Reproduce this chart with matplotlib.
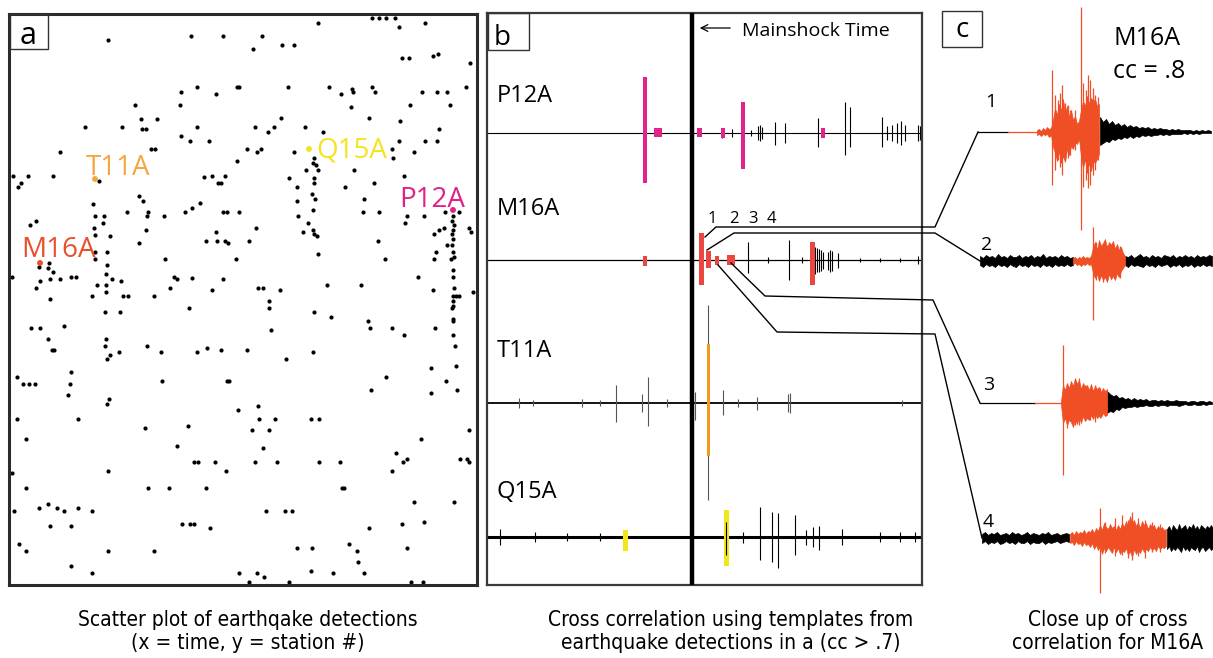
import numpy as np
import matplotlib
matplotlib.use('Agg')
from matplotlib import pyplot as plt
from matplotlib import font_manager
from matplotlib.font_manager import FontProperties
from matplotlib.patches import Rectangle

plt.rcParams['font.family'] = ['Open Sans', 'DejaVu Sans']

# condensed face for the captions, if one is around
cond = None
for f in font_manager.fontManager.ttflist:
    if f.style != 'normal' or f.weight not in (400, 'normal', 'regular', 'book'):
        continue
    if f.name in ('Roboto Condensed', 'Open Sans Condensed', 'DejaVu Sans Condensed', 'Liberation Sans Narrow') \
            or (f.name == 'DejaVu Sans' and f.stretch == 'condensed'):
        cond = f.fname
        break
if cond:
    cap_prop = FontProperties(fname=cond, size=15)
else:
    cap_prop = FontProperties(family='DejaVu Sans', size=13.5)

W, H = 1213, 658

# ---- panel a: detections, (time, station) in panel units
det_t = [108,191,223,237,239,197,181,216,180,135,141,157,85,122,142,146,197,181,190,209,60,151,155,237,13,28,53,21,18,99,
         204,212,225,218,221,139,143,93,200,192,185,127,148,147,164,223,227,239,36,30,95,104,103,94,95,110,146,216,206,217,
         225,228,139,95,107,95,165,236,49,39,48,53,12,50,40,60,71,76,107,106,112,121,174,177,192,223,36,97,106,106,
         170,212,50,92,123,128,154,
         318,372,379,386,395,399,425,262,253,282,294,402,409,433,438,470,288,329,341,352,353,372,375,422,437,447,466,410,450,351,
         281,369,400,255,274,268,305,323,439,247,257,261,294,314,313,316,318,306,354,392,393,399,414,425,437,289,314,314,297,345,
         374,404,312,315,297,364,313,363,379,445,459,407,405,424,298,308,256,303,313,314,317,434,439,444,
         453,452,454,453,452,453,452,453,454,453,453,454,453,
         469,471,249,378,447,318,385,436,434,451,418,258,263,280,327,361,433,456,459,473,269,
         105,120,189,31,40,64,48,52,54,106,105,107,110,119,147,161,197,207,221,17,23,29,35,71,70,68,162,227,229,109,
         107,17,78,238,145,188,26,177,12,108,194,198,215,226,26,148,169,206,14,39,48,57,64,78,92,50,71,182,190,194,
         210,19,26,108,154,71,92,239,
         269,314,331,271,368,370,392,404,435,453,453,452,453,453,453,455,456,247,313,286,431,386,446,371,431,457,258,259,275,311,
         319,252,269,469,263,421,396,255,277,319,340,403,407,392,460,467,469,342,344,414,454,266,285,292,369,402,424,297,312,349,
         357,358,407,257,249,264,289,311,333,364,411,423]
det_s = [40,36,36,87,87,87,92,94,105,105,119,119,127,127,129,129,127,136,141,141,152,149,149,161,176,176,176,183,187,181,
         177,176,176,183,183,196,201,204,203,208,212,212,212,216,216,212,212,212,221,225,216,216,223,228,235,236,230,232,241,241,
         241,243,243,252,252,259,259,259,263,267,268,272,277,279,281,279,277,277,265,274,279,281,277,279,278,279,288,285,285,292,
         288,290,299,296,296,296,296,
         23,18,18,18,18,27,23,36,49,45,45,58,58,56,54,63,87,87,94,89,92,87,92,92,92,92,87,105,105,107,
         118,118,121,127,127,132,127,132,129,149,152,149,152,158,163,165,170,170,170,149,158,141,152,141,141,178,178,183,187,187,
         183,176,194,199,201,199,210,212,212,212,212,216,223,216,216,223,228,232,230,234,236,234,230,228,
         216,221,225,230,234,239,245,252,257,270,277,288,296,
         228,232,241,241,245,254,259,252,259,259,277,288,288,290,285,285,290,296,296,292,301,
         312,312,308,328,328,326,339,350,350,339,346,359,355,352,346,352,352,348,350,377,384,384,384,372,384,395,381,381,381,399,
         404,419,419,410,428,426,439,446,473,471,462,462,462,471,488,488,488,488,511,508,504,508,511,508,511,526,526,524,524,524,
         528,544,551,551,551,566,573,573,
         308,312,317,330,321,328,328,335,328,301,306,308,319,321,335,346,366,350,352,359,368,377,381,390,393,390,406,419,419,419,
         419,430,430,430,448,439,453,462,462,462,462,462,459,471,459,459,462,488,488,502,502,511,511,511,528,524,522,548,548,544,
         551,562,548,573,582,577,582,571,573,573,582,582]

stations = ['T11A', 'M16A', 'Q15A', 'P12A']
sta_t = [95, 40, 309, 453]
sta_s = [179, 263, 149, 210]
sta_colors = ['#f4a640', '#e8502c', '#f2e41e', '#e0218a']

# ---- panel b: traces (baseline, trace width), spikes (t, top, bottom), detection bars (t, top, bottom, width)
trace_base = [133, 260, 403, 537]
trace_lw = [0.8, 0.9, 1.3, 2.2]
bar_colors = ['#e2238c', '#e9473f', '#f39a1e', '#f1e51c']
mainshock_t = 692

spikes_P12A = [(722,128,138),(732,129,137),(751,130,136),(758,126,140),(760,125,141),(762,127,139),(775,122,145),
               (785,123,143),(818,118,147),(845,102,155),(850,107,147),(882,117,147),(887,126,140),(892,125,141),
               (897,123,143),(901,121,145),(905,125,141),(918,125,141),(920,126,140)]
spikes_M16A = [(748,242,273),(768,257,263),(789,240,280),(802,257,263),(813,248,273),(815,247,274),(817,248,272),
               (819,249,272),(821,250,271),(823,252,269),(828,252,270),(830,250,272),(832,251,271),(838,253,268),
               (860,258,262),(880,258,262),(900,258,262),(918,256,264)]
spikes_T11A = [(519,398,408),(533,400,406),(582,399,407),(600,400,406),(616,385,422),(642,394,412),(648,377,426),
               (667,399,407),(695,392,420),(708,305,500),(723,390,415),(738,399,407),(757,397,410),(788,394,412),
               (790,393,413),(902,400,406)]
spikes_Q15A = [(500,529,545),(535,532,542),(567,533,541),(600,533,541),(743,532,543),(760,507,560),(772,512,562),
               (778,513,568),(795,515,555),(806,530,545),(813,527,547),(819,526,550),(842,529,545),(880,532,542),
               (900,532,542),(915,532,542)]
bars_P12A = [(645,77,183,4),(658,128,137,8),(699,128,137,5),(723,128,138,4),(743,102,169,4),(823,128,138,4)]
bars_M16A = [(645,256,266,4),(701,233,285,5),(708,251,268,5),(717,256,265,4),(731,255,265,8),(812,242,285,5)]
bars_T11A = [(708,344,456,3)]
bars_Q15A = [(625,530,551,5),(726,510,566,5)]
spikes_b = [spikes_P12A, spikes_M16A, spikes_T11A, spikes_Q15A]
bars_b = [bars_P12A, bars_M16A, bars_T11A, bars_Q15A]
event_num = ['1', '2', '3', '4']
event_num_t = [708, 729, 748, 767]

# ---- panel c: close-ups. segments = (start, step, upper env, lower env, colour key)
RED = '#f04e25'
c_base = [132, 261, 403, 538]
c_start = [978, 980, 980, 982]
c_quiet_red = [(1008, 1037), None, (1035, 1061), None]
c1_segs = [(1037, 2, [2,3,1,4,2,5,3,4, 12,24,17,28,21,33,19,26,15,22,12,16,8,11, 22,31,26,36,29,34,31,33,26,28],
                     [3,2,4,2,3,2,5,3, 15,21,29,19,31,24,30,17,23,14,17,10,12,7, 24,36,27,41,31,39,29,31,27,22], 'r'),
           (1100, 3, [15,10,13,8,11,7,9,6,8,5,7,5,6,4,5,4,5,3,4,3,4,3,3,2,3,2,3,2,2,2,2,1,2,1,2,1,2,1],
                     [13,11,9,10,7,8,6,7,5,6,4,6,4,5,3,4,3,4,3,3,2,3,2,3,2,2,2,2,1,2,1,2,1,2,1,1,1,1], 'k')]
c2_segs = [(980, 3, [5,3,6,4,5,3,7,4,5,3,6,4,4,6,3,5,4,6,3,5,4,7,3,5,4,5,3,6,4,5,3,4],
                    [4,6,3,5,4,6,3,5,4,6,3,5,6,3,5,4,6,3,5,4,6,3,5,4,6,3,5,4,5,3,5,4], 'k'),
           (1073, 2, [3,4,2,4,3,5,3,4,3,5, 14,19,11,21,15,18,22,13,19,16,20,12,17,11,14,8,5],
                     [3,2,4,3,5,3,4,2,4,3, 12,17,13,20,14,19,16,21,13,18,15,19,12,16,10,7,4], 'r'),
           (1125, 3, [5,4,6,3,5,7,4,5,3,6,4,5,3,6,5,4,6,3,5,4,6,4,5,3,6,4,5,4,6,5],
                     [4,6,3,5,4,5,6,3,5,4,6,3,5,4,3,6,4,5,3,6,4,5,3,6,4,5,3,5,4,5], 'k')]
c3_segs = [(1061, 2, [2,18,13,20,15,22,17,25,19,23,14,20,16,18,13,19,12,17,14,16,11,15,12,14],
                     [2,20,15,22,17,19,24,16,21,14,20,13,18,15,17,12,16,11,15,13,14,10,13,12], 'r'),
           (1107, 3, [12,9,7,8,5,6,4,5,3,5,3,4,3,4,2,3,3,2,3,2,3,2,2,3,2,2,2,1,2,2,1,2,2,1,2,1],
                     [10,8,9,6,7,4,5,4,4,3,4,3,3,2,3,3,2,3,2,2,3,2,2,2,3,2,1,2,2,1,2,2,1,2,1,1], 'k')]
c4_segs = [(982, 3, [4,6,3,5,4,6,3,4,5,3,6,4,5,3,4,6,3,5,4,3,5,4,6,3,4,5,3,4,5,4],
                    [5,3,6,4,5,3,6,5,3,5,4,6,3,5,5,3,6,4,5,5,3,6,4,5,4,3,5,4,3,4], 'k'),
           (1070, 2, [4,6,3,7,4,6,5,8,4,7, 6,9,5,10,7,13,8,15,11,9, 14,10,12,8,13,9,15,11,17,12,
                      22,15,18,12,16,10,17,13,15,9, 14,11,13,8,12,9,11,8,9],
                     [5,4,7,3,6,5,8,4,7,6, 9,5,11,7,12,8,16,10,13,9, 12,15,9,14,10,16,12,14,10,17,
                      13,19,11,16,12,15,10,14,11,13, 9,12,10,13,8,11,9,10,8], 'r'),
           (1167, 2, [9,12,7,13,10,8,14,9,11,13,8,12,10,14,9,12,8,13,11,9,12,10,13,9],
                     [11,8,13,10,12,9,11,14,8,12,10,13,9,11,12,8,14,10,9,13,11,9,12,10], 'k')]
c_segs = [c1_segs, c2_segs, c3_segs, c4_segs]
c_red_spk = [[(1052,70,185),(1055,95,170),(1058,100,160),(1060,93,167),(1062,85,175),(1065,103,160),(1068,105,158),
              (1070,110,155),(1075,110,150),(1081,7,230),(1083,83,187),(1086,90,180),(1088,75,188),(1090,80,185),
              (1093,88,175),(1095,95,170),(1098,97,160)],
             [(1093,227,320),(1096,242,280),(1100,243,278),(1103,245,282),(1107,245,280),(1111,244,279),
              (1115,247,275),(1118,248,276),(1120,246,278)],
             [(1063,345,475),(1067,385,428),(1070,390,420),(1075,382,425),(1079,378,425),(1085,385,420),
              (1090,388,420),(1095,385,422),(1100,388,418)],
             [(1100,508,593),(1105,522,553),(1115,518,556),(1122,515,555),(1128,520,558),(1132,512,560),
              (1138,518,556),(1145,520,558),(1152,522,552),(1160,524,552)]]
c_num_pos = [(985,107), (981,250), (983,390), (983,527)]

connectors = [[(705,237),(716,227),(935,227),(978,132)],
              [(707,250),(734,233),(935,233),(980,261)],
              [(731,263),(765,296),(933,300),(980,403)],
              [(718,265),(777,332),(935,334),(982,538)]]

captions = [(248, ['Scatter plot of earthqake detections', '(x = time, y = station #)']),
            (731, ['Cross correlation using templates from', 'earthquake detections in a (cc > .7)']),
            (1108, ['Close up of cross', 'correlation for M16A'])]


def px_axes(fig, x0, y0, x1, y1):
    ax = fig.add_axes([x0 / W, 1 - y1 / H, (x1 - x0) / W, (y1 - y0) / H])
    ax.set_xlim(x0, x1)
    ax.set_ylim(y1, y0)
    ax.set_xticks([])
    ax.set_yticks([])
    return ax


fig = plt.figure(figsize=(W / 100, H / 100), dpi=100)

# panel a
ax_a = px_axes(fig, 9, 14, 477, 585)
for sp in ax_a.spines.values():
    sp.set_linewidth(2.2)
    sp.set_color('#2b2b2b')
ax_a.scatter(det_t, det_s, s=9, c='k', linewidths=0, zorder=2)
ax_a.scatter(sta_t, sta_s, s=18, c=sta_colors, linewidths=0, zorder=3)
ax_a.text(86, 175, 'T11A', color=sta_colors[0], fontsize=20)
ax_a.text(21, 257, 'M16A', color=sta_colors[1], fontsize=20)
ax_a.text(316, 158, 'Q15A', color=sta_colors[2], fontsize=20)
ax_a.text(399, 207, 'P12A', color=sta_colors[3], fontsize=20)
ax_a.add_patch(Rectangle((10, 14), 38, 35, fill=False, ec='#333333', lw=1.0, zorder=4))
ax_a.text(28.5, 44, 'a', ha='center', fontsize=22)

# panel b
ax_b = px_axes(fig, 487, 13, 922, 585)
for sp in ax_b.spines.values():
    sp.set_linewidth(1.6)
    sp.set_color('#3a3a3a')
for i, st in enumerate(['P12A', 'M16A', 'T11A', 'Q15A']):
    base = trace_base[i]
    ax_b.plot([487, 921], [base, base], color='k', lw=trace_lw[i], zorder=2)
    sp_ = spikes_b[i]
    ax_b.vlines([s[0] for s in sp_], [s[1] for s in sp_], [s[2] for s in sp_],
                color='k' if i != 2 else '#555555', lw=0.8, zorder=2)
    br = bars_b[i]
    ax_b.bar([b[0] for b in br], [b[2] - b[1] for b in br], bottom=[b[1] for b in br],
             width=[b[3] for b in br], color=bar_colors[i], zorder=3)
    ax_b.text(497, [102, 215, 357, 498][i], st, fontsize=17)
ax_b.vlines([726], [522], [555], color='k', lw=0.8, zorder=4)
ax_b.axvline(mainshock_t, color='k', lw=3.2, zorder=4)
ax_b.annotate('', xy=(697, 28), xytext=(733, 28),
              arrowprops=dict(arrowstyle='->', lw=0.9, color='k', mutation_scale=12))
ax_b.text(742, 36, 'Mainshock Time', fontsize=14)
for n, t in zip(event_num, event_num_t):
    ax_b.text(t, 223, n, fontsize=12)
ax_b.add_patch(Rectangle((488, 13), 41, 37, fill=False, ec='#333333', lw=1.0, zorder=4))
ax_b.text(502, 45, 'b', ha='center', fontsize=20)

# overlay: panel c, connectors, captions
ax_o = fig.add_axes([0, 0, 1, 1], zorder=10)
ax_o.set_xlim(0, W)
ax_o.set_ylim(H, 0)
ax_o.axis('off')
ax_o.patch.set_visible(False)

for i in range(4):
    base = c_base[i]
    if c_quiet_red[i] is not None:
        ax_o.plot([c_start[i], c_quiet_red[i][0]], [base, base], color='k', lw=0.9)
        ax_o.plot(list(c_quiet_red[i]), [base, base], color=RED, lw=0.9)
    for x0, step, up, dn, key in c_segs[i]:
        x = x0 + step * np.arange(len(up))
        col = RED if key == 'r' else 'k'
        ax_o.fill_between(x, base + np.array(dn), base - np.array(up), color=col, lw=0.5,
                          zorder=3 if key == 'r' else 2)
    spk = c_red_spk[i]
    ax_o.vlines([s[0] for s in spk], [s[1] for s in spk], [s[2] for s in spk], color=RED, lw=0.9, zorder=3)
    ax_o.text(c_num_pos[i][0], c_num_pos[i][1], str(i + 1), fontsize=14)

for path in connectors:
    ax_o.plot([p[0] for p in path], [p[1] for p in path], color='k', lw=1.0)

ax_o.add_patch(Rectangle((942, 11), 40, 36, fill=False, ec='#333333', lw=1.0))
ax_o.text(962, 37, 'c', ha='center', fontsize=20)
ax_o.text(1113, 45, 'M16A', fontsize=18)
ax_o.text(1113, 78, 'cc = .8', fontsize=18)

for cx, lines in captions:
    ax_o.text(cx, 620, lines[0], ha='center', va='center', fontproperties=cap_prop)
    ax_o.text(cx, 643, lines[1], ha='center', va='center', fontproperties=cap_prop)

fig.savefig('out.png', dpi=100)
